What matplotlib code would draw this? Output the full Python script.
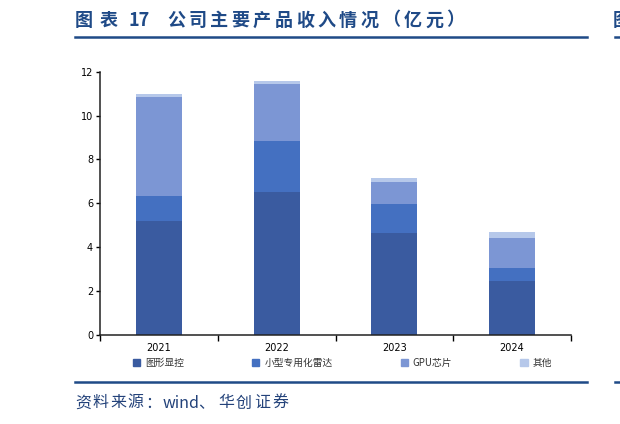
import numpy as np
import matplotlib
matplotlib.use("Agg")
import matplotlib.pyplot as plt
from matplotlib.lines import Line2D
from matplotlib.patches import Patch

plt.rcParams['font.family'] = ['Noto Sans CJK SC', 'DejaVu Sans']

# data (亿元)
years = ['2021', '2022', '2023', '2024']
graphic = [5.20, 6.53, 4.67, 2.48]     # 图形显控
radar = [1.15, 2.30, 1.31, 0.59]       # 小型专用化雷达
gpu = [4.49, 2.60, 1.01, 1.33]         # GPU芯片
other = [0.15, 0.14, 0.16, 0.30]       # 其他
series_names = ['图形显控', '小型专用化雷达', 'GPU芯片', '其他']
colors = ['#3A5BA0', '#4470C1', '#7C96D4', '#B6C8EA']
yticks = [0, 2, 4, 6, 8, 10, 12]

W, H = 620, 424
fig = plt.figure(figsize=(W / 100, H / 100), dpi=100)
ax = fig.add_axes([100 / W, 1 - 335 / H, 471 / W, 263.3 / H])

x = np.arange(len(years))
bottom = np.zeros(len(years))
handles = []
for vals, name, c in zip([graphic, radar, gpu, other], series_names, colors):
    ax.bar(x, vals, 0.39, bottom=bottom, color=c, label=name)
    bottom += np.array(vals)
    handles.append(Patch(color=c, label=name))

ax.set_xlim(-0.5, len(years) - 0.5)
ax.set_ylim(0, 12)
ax.set_yticks(yticks)
ax.set_yticklabels([str(v) for v in yticks], fontsize=7, family='DejaVu Sans')
ax.set_xticks(x)
ax.set_xticklabels(years, fontsize=7, family='DejaVu Sans')
ax.set_xticks(np.arange(-0.5, len(years)), minor=True)
ax.tick_params(axis='x', which='major', length=0, pad=6)
ax.tick_params(axis='x', which='minor', length=4, width=1, direction='out')
ax.tick_params(axis='y', length=3, width=1, direction='out', pad=2)
for s in ['top', 'right']:
    ax.spines[s].set_visible(False)
for s in ['left', 'bottom']:
    ax.spines[s].set_color('#222222')
    ax.spines[s].set_linewidth(1.1)

fig.legend(handles=handles, ncol=4, loc='center left',
           bbox_to_anchor=(129 / W, 1 - 363 / H), frameon=False,
           fontsize=7, handlelength=0.75, handleheight=0.75,
           handletextpad=0.5, columnspacing=7.0, borderaxespad=0,
           labelcolor='#333333')


def spaced(x0, y, s, pitch, **kw):
    # letter-spaced text, one glyph at a time
    for i, ch in enumerate(s):
        fig.text((x0 + i * pitch) / W, 1 - y / H, ch, va='center', ha='left', **kw)


# header / footer
navy = '#1F4A87'
tkw = dict(fontsize=13, fontweight='bold', color=navy)
spaced(75, 20, '图表', 25, **tkw)
fig.text(128 / W, 1 - 20 / H, '17', va='center', ha='left', **tkw)
spaced(167, 20, '公司主要产品收入情况（亿元）', 21.5, **tkw)
fig.add_artist(Line2D([75 / W, 587 / W], [1 - 37 / H] * 2, color=navy, lw=1.8))
fig.add_artist(Line2D([615 / W, 1], [1 - 37 / H] * 2, color=navy, lw=1.8))
fig.add_artist(Line2D([75 / W, 587 / W], [1 - 382 / H] * 2, color=navy, lw=1.8))
fig.add_artist(Line2D([615 / W, 1], [1 - 382 / H] * 2, color=navy, lw=1.8))
fig.text(613 / W, 1 - 20 / H, '图', va='center', ha='left', **tkw)

skw = dict(fontsize=11.5, style='italic', color='#23427A')
spaced(75, 403, '资料来源：', 17.5, **skw)
fig.text(163 / W, 1 - 403 / H, 'wind、', va='center', ha='left', **skw)
spaced(218, 403, '华创证券', 18, **skw)

fig.savefig('out.png', dpi=100)
